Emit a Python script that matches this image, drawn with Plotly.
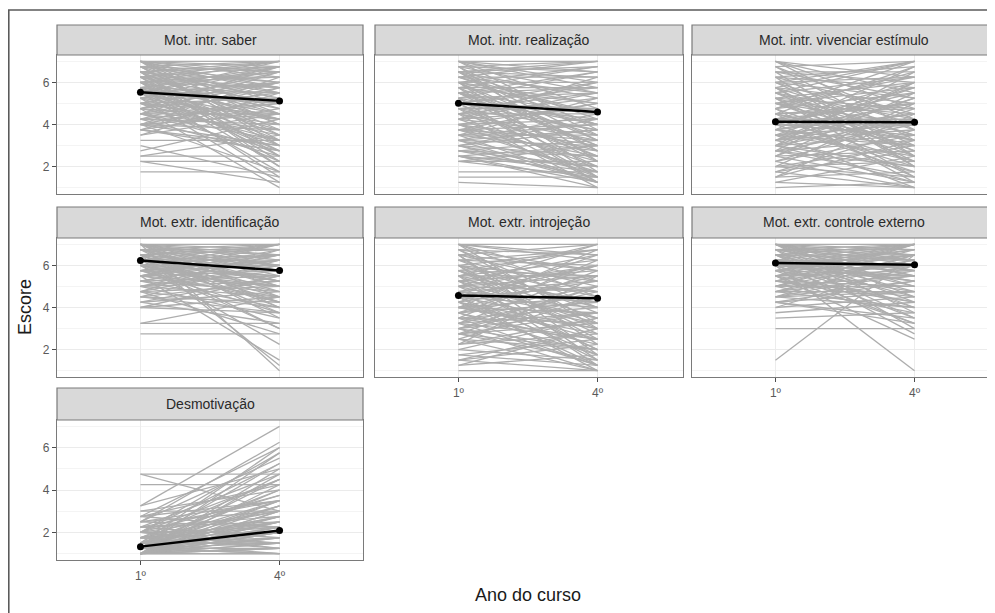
import plotly.graph_objects as go

# ---------------- data ----------------
panel_titles = [
    "Mot. intr. saber",
    "Mot. intr. realização",
    "Mot. intr. vivenciar estímulo",
    "Mot. extr. identificação",
    "Mot. extr. introjeção",
    "Mot. extr. controle externo",
    "Desmotivação",
]
x_categories = [1, 2]
x_tick_labels = ["1º", "4º"]
y_tick_values = [2, 4, 6]

# (score in 1st year, score in 4th year) for individual students
saber = [(7,6.5),(7,7),(7,5.5),(7,4.5),(6.75,7),(6.75,6),(6.75,3.5),(6.5,6.75),(6.5,5.25),(6.5,4),
         (6.5,2.5),(6.25,6.25),(6.25,5),(6.25,3),(6,7),(6,5.75),(6,4.75),(6,2),(5.75,6.5),(5.75,4.5),
         (5.75,1.5),(5.5,6),(5.5,5.5),(5.5,3.75),(5.5,2.75),(5.25,6.75),(5.25,4.25),(5.25,1.25),(5,5.25),(5,4),
         (5,2.25),(4.75,6),(4.75,3.5),(4.75,1),(4.5,5.75),(4.5,4.5),(4.5,3.25),(4.25,5),(4.25,2.5),(4,6.25),
         (4,3.75),(4,1.75),(3.75,4.75),(3.75,3),(3.5,5.5),(3.25,3.25),(3,1.5),(2.75,4.25),(2.5,2.5),(2.5,3.5),
         (2.25,2.25),(2.25,1.25),(1.75,1.75),(7,6.25),(6.75,5.75),(6.5,7),(6.25,4.5),(6,6.5),(5.75,5),(5.5,6.75),
         (5.25,3),(5,6),(4.75,5.5),(6.5,3.75),(6,2.75),(5.5,4.25),(7,5),(6.25,6.75),(5.75,3.25),(4.5,6.5),
         (7,6.75),(7,5.75),(6.75,6.5),(6.75,4.75),(6.5,6),(6.5,5.5),(6.25,7),(6.25,5.75),(6,6.25),(6,4.25),
         (5.75,6.75),(5.75,5.5),(5.5,5),(5.5,7),(5.25,6),(5.25,5.25),(5,4.5),(5,6.5),(4.75,4.25),(4.75,6.75),
         (4.5,5),(4.5,3.75),(4.25,6),(4.25,4),(4,5.25),(4,4.5),(3.75,5.75),(3.75,2.75),(7,4),(6.5,2),
         (6,3.5),(5.5,1.75),(5,3.25),(6.75,3.25),(6.25,2.25),(7,3),(4.5,2.75),(5.75,2.5),(3.5,4.5),(4,3)]

realizacao = [(7,7),(7,6),(7,4.75),(6.75,6.5),(6.75,3.5),(6.5,7),(6.5,5.25),(6.5,2.75),(6.25,6.25),(6.25,4),
              (6,6.75),(6,5),(6,1.75),(5.75,5.75),(5.75,3),(5.5,6.5),(5.5,4.5),(5.5,2.25),(5.25,5.5),(5.25,1.25),
              (5,6),(5,3.75),(5,1.5),(4.75,4.75),(4.75,2.5),(4.5,5.25),(4.5,3.25),(4.5,1),(4.25,6.25),(4.25,2),
              (4,4.25),(4,3),(3.75,5),(3.75,1.75),(3.5,3.5),(3.5,2.75),(3.25,4.5),(3.25,1.25),(3,2.5),(3,3.75),
              (2.75,2),(2.75,1.5),(2.5,3),(2.5,1.25),(2.25,2.25),(1.75,1.75),(1.5,1.5),(1.25,1),(7,5.75),(6.75,7),
              (6.5,4.25),(6.25,5.5),(6,3.25),(5.75,6.75),(5.5,4),(5.25,2.5),(5,5.75),(4.75,3.75),(4.5,6),(4.25,4.75),
              (4,2.25),(3.75,3.25),(3.5,4),(3.25,2),(3,1.75),(6.5,6.25),(6,4.5),(5.5,3),(5,4.25),(2.5,1),
              (7,6.5),(7,3.75),(6.75,5.5),(6.75,2.25),(6.5,6.75),(6.5,3.25),(6.25,7),(6.25,4.5),(6,6),(6,2.75),
              (5.75,5),(5.75,1.5),(5.5,5.75),(5.5,3.5),(5.25,6.5),(5.25,4),(5,4.75),(5,2),(4.75,5.5),(4.75,1.25),
              (4.5,4.5),(4.5,2.75),(4.25,3.5),(4.25,5.5),(4,5),(4,1.5),(3.75,4),(3.75,2.5),(3.5,5.25),(3.5,1.25),
              (3.25,3),(3.25,3.75),(3,4.25),(3,1.25),(2.75,3.25),(2.75,2.5),(2.5,2),(2.25,1.5),(2.25,3),(2.5,1.75)]

vivenciar = [(7,5.5),(7,3.75),(6.75,7),(6.5,6),(6.5,2.5),(6.25,4.5),(6.25,6.75),(6,3),(6,5.25),(5.75,7),
             (5.75,2),(5.5,4.25),(5.5,6.25),(5.25,3.5),(5.25,1.5),(5,5.75),(5,4),(5,2.75),(4.75,6.5),(4.75,1.25),
             (4.5,5),(4.5,3.25),(4.5,4.75),(4.25,2.25),(4.25,6),(4,4),(4,1.75),(4,5.5),(3.75,3),(3.75,6.75),
             (3.5,4.5),(3.5,1),(3.5,2.5),(3.25,5.25),(3.25,3.75),(3,2),(3,4.25),(3,6.5),(2.75,3.25),(2.75,1.5),
             (2.5,4.75),(2.5,2.75),(2.25,3.5),(2.25,1),(2,5),(2,2.25),(1.75,3.75),(1.5,1.75),(1.25,2.5),(1,1.25),
             (6.75,4.25),(6,7),(5.5,2.75),(5,6.25),(4.5,3),(4,5.75),(3.5,4),(3,1.25),(2.5,5.5),(2,3),
             (1.5,4.5),(6.5,6.5),(5.25,4.75),(4.25,3.25),(3.75,5),(2.75,2),(4.75,7),(3.25,6),(5.75,3.75),(1.75,1),
             (7,6.25),(7,4.75),(6.75,3.25),(6.5,5.25),(6.25,2),(6.25,5.75),(6,4),(6,6.25),(5.75,5),(5.75,2.5),
             (5.5,3.5),(5.5,7),(5.25,6),(5.25,2.25),(5,3.25),(5,4.5),(4.75,5.5),(4.75,2.5),(4.5,6.75),(4.5,1.5),
             (4.25,4.25),(4.25,5),(4,3.5),(4,2),(3.75,4.5),(3.75,2.25),(3.5,5.75),(3.5,3),(3.25,1.75),(3.25,4.25),
             (3,5.25),(3,3.5),(2.75,4),(2.75,6),(2.5,1.25),(2.25,4.25),(2,1.5),(1.75,2.75),(1.5,3.25),(1.25,1)]

identificacao = [(7,7),(7,6.5),(7,5.5),(7,4.5),(7,1),(6.75,7),(6.75,6),(6.75,5),(6.75,3.5),(6.5,6.75),
                 (6.5,5.75),(6.5,4.25),(6.5,1.25),(6.25,6.25),(6.25,5.25),(6.25,3),(6,7),(6,6),(6,4.75),(6,2.25),
                 (5.75,6.5),(5.75,5.5),(5.75,3.75),(5.5,6.75),(5.5,5),(5.5,1.5),(5.25,6.25),(5.25,4),(5,5.75),(5,4.5),
                 (5,3.5),(4.75,6),(4.75,2.75),(4.5,5.25),(4.5,4.25),(4.25,4.75),(4.25,3.25),(4,5.5),(4,3.75),(3.25,3.25),
                 (3.25,4.5),(2.75,2.75),(7,6.75),(6.75,5.75),(6.5,7),(6.25,6.5),(6,5),(5.75,7),(5.5,6.25),(5.25,5.5),
                 (5,6.5),(7,6),(6.5,4),(6,3),(5.5,4.5),(6.75,6.75),(6.25,5.25),(5.75,6),(4.75,5),(7,5.75),
                 (7,6.25),(7,5),(6.75,6.5),(6.75,4.75),(6.5,6),(6.5,5.25),(6.25,7),(6.25,4.5),(6,6.5),(6,5.5),
                 (5.75,6.25),(5.75,4.25),(5.5,7),(5.5,5.75),(5.25,6.5),(5.25,4.75),(5,6),(5,5.25),(4.75,6.75),(4.75,4),
                 (4.5,6.25),(4.5,3.75),(4.25,5.5),(4,4.5),(7,4),(6.5,3.75),(6,4.25),(5.75,5),(6.75,5.25),(6.25,5.75)]

introjecao = [(7,7),(7,5.25),(7,3),(6.75,6.5),(6.75,4),(6.5,7),(6.5,5),(6.5,2.25),(6.25,6),(6.25,3.75),
              (6,6.75),(6,4.5),(6,1.5),(5.75,5.5),(5.75,2.75),(5.5,6.25),(5.5,4.25),(5.5,1.25),(5.25,5.75),(5.25,3.25),
              (5,7),(5,4.75),(5,2),(4.75,6),(4.75,3.5),(4.5,5),(4.5,4),(4.5,1),(4.25,6.5),(4.25,2.5),
              (4,4.5),(4,3),(4,5.5),(3.75,1.75),(3.75,4.25),(3.5,6.25),(3.5,2.5),(3.25,3.75),(3.25,1.25),(3,5),
              (3,2),(2.75,3.25),(2.75,1.5),(2.5,4.5),(2.5,1),(2.25,2.75),(2,3.5),(1.75,1.25),(1.5,2.25),(1.25,1.75),
              (1,1),(6.75,5.75),(6.25,6.75),(5.75,3.5),(5.25,4.75),(4.75,5.25),(4.25,3),(3.75,6),(3.25,4.75),(2.75,2),
              (2.25,5.5),(1.5,3),(6,4),(5,6),(4,2.75),(3,3.75),(7,6.25),(5.5,5.5),(4.5,1.75),(3.5,4),
              (7,6.5),(7,4.5),(6.75,3.25),(6.5,5.75),(6.5,1.75),(6.25,4.75),(6,5.25),(6,2.5),(5.75,6.75),(5.75,4),
              (5.5,3),(5.5,7),(5.25,2),(5.25,6.5),(5,3.5),(5,5.5),(4.75,4.25),(4.75,1.5),(4.5,6),(4.5,3.25),
              (4.25,5.25),(4.25,1.25),(4,6.75),(4,3.75),(3.75,2.25),(3.75,5),(3.5,3.25),(3.5,1.25),(3.25,5.75),(3.25,2.5),
              (3,4.5),(3,1),(2.75,5),(2.75,3.75),(2.5,2),(2.25,3.5),(2,1.5),(1.75,2.5),(1.5,1),(1.25,3)]

controle_externo = [(7,7),(7,6.5),(7,5.5),(7,4.5),(7,6),(6.75,7),(6.75,5.75),(6.75,4.25),(6.75,6.75),(6.5,6.5),
                    (6.5,5),(6.5,3.5),(6.5,7),(6.25,6.25),(6.25,5.25),(6.25,2.75),(6,7),(6,5.75),(6,4),(6,6.5),
                    (5.75,6.75),(5.75,4.75),(5.75,3.25),(5.5,6),(5.5,5.5),(5.5,2.5),(5.25,7),(5.25,4.5),(5,6.25),(5,5),
                    (5,3.75),(4.75,6.5),(4.75,4),(4.5,5.25),(4.5,5.75),(4.25,4.75),(4.25,3.5),(3.75,4.25),(3.5,3.75),(3,3),
                    (1.5,6.5),(6,1),(7,6.75),(6.75,6.25),(6.5,7),(6.25,6),(6,5.5),(5.75,7),(5.5,6.5),(5.25,5),
                    (7,6.25),(6.5,5.75),(6,6.75),(5.5,4.25),(5,7),(4.75,5.5),(6.75,3),(6.25,5.25),(5.75,6),(4.5,4.75),
                    (7,5.75),(7,5),(6.75,6.5),(6.75,5.5),(6.5,6.25),(6.5,4.75),(6.25,7),(6.25,4.5),(6,6),(6,5.25),
                    (5.75,6.5),(5.75,5.5),(5.5,7),(5.5,5.75),(5.25,6.25),(5.25,4.25),(5,6.75),(5,5.5),(4.75,6),(4.75,4.75),
                    (4.5,6.5),(4.5,4),(4.25,5.25),(4.25,3.25),(4,4.5),(4,6),(7,3.75),(6.5,4),(6,3.5),(5.5,3.25)]

desmotivacao = [(1,1),(1,1.5),(1,2),(1,2.5),(1,3),(1,3.5),(1,1.25),(1,4.75),(1.25,1),(1.25,2.25),
                (1.25,2.75),(1.25,3.25),(1.25,5.75),(1.5,1.75),(1.5,2.5),(1.5,4),(1.5,6),(1.75,1.25),(1.75,3),(1.75,4.5),
                (2,2),(2,3.75),(2,5.25),(2.25,2.75),(2.25,4.75),(2.5,3.5),(2.5,6.25),(2.75,2.25),(2.75,4.25),(3,3),
                (3.25,7),(4.75,4.75),(4.75,3),(4.25,4.25),(1,1.75),(1,2.75),(1,1),(1.25,1.5),(1.25,4),(1.5,1),
                (1.5,3.25),(1.75,2.25),(2,1.5),(2.25,3.5),(1,2.25),(1,1.25),(1.25,2),(1.5,2.75),(1,3.25),(1.25,1.75),
                (3.25,5),(2.5,5.5),(1.75,3.75),(1,5),(1.5,1.5),(2,4.5),(1.25,2.5),(1,1.5),(2.75,6),(1,2),
                (1,1.25),(1,1.75),(1,2.5),(1,3),(1.25,1),(1.25,2.25),(1.25,3.5),(1.5,1.5),(1.5,2),(1.5,2.75),
                (1.75,1.5),(1.75,2.5),(2,2.25),(2,3),(2.25,1.75),(2.25,2.5),(2.5,2.25),(2.5,3),(1,1),(1.25,1.25),
                (1,2),(1.5,3.5),(1.75,2),(2,1.25),(2.75,3.5),(1,4.25),(1.25,4.5),(2,5.75),(1.5,5.25),(3,4)]

students = [saber, realizacao, vivenciar, identificacao, introjecao, controle_externo, desmotivacao]

# group means (1º, 4º)
mean_1o = [5.53, 5.01, 4.13, 6.23, 4.57, 6.11, 1.33]
mean_4o = [5.12, 4.59, 4.11, 5.76, 4.44, 6.03, 2.09]

# ---------------- layout geometry (page pixels) ----------------
OFF = 8                      # default body margin of the html page
W, H = 995 - OFF, 613 - OFF
col_px = [(57, 363), (375, 683), (692, 995)]
row_px = [(55, 194), (238, 377), (420, 560)]
strip_px = [(25, 55), (207, 238), (388, 420)]
unit_px = (363 - 57) / 2.2

def px_x(p):
    return (p - OFF) / W

def px_y(p):
    return 1 - (p - OFF) / H

FONT = "Liberation Sans, Arial, sans-serif"
GREY_LINE = "#adadad"
BORDER = "#7a7a7a"

fig = go.Figure()
layout = dict(
    width=W, height=H,
    margin=dict(l=0, r=0, t=0, b=0),
    paper_bgcolor="white", plot_bgcolor="white",
    showlegend=False,
    font=dict(family=FONT, color="#4d4d4d"),
    shapes=[], annotations=[],
)

xbottom = {6, 4, 5}
for i, title in enumerate(panel_titles):
    r, c = divmod(i, 3)
    ax = "" if i == 0 else str(i + 1)
    x0, x1 = col_px[c]
    y0, y1 = row_px[r]
    xr_hi = 0.4 + (x1 - x0) / unit_px

    xs, ys = [], []
    for a, b in students[i]:
        xs += [x_categories[0], x_categories[1], None]
        ys += [a, b, None]
    fig.add_trace(go.Scatter(x=xs, y=ys, mode="lines", xaxis="x" + ax, yaxis="y" + ax,
                             line=dict(color=GREY_LINE, width=1.3), hoverinfo="skip"))
    fig.add_trace(go.Scatter(x=x_categories, y=[mean_1o[i], mean_4o[i]], mode="lines+markers",
                             xaxis="x" + ax, yaxis="y" + ax,
                             line=dict(color="black", width=2.4),
                             marker=dict(color="black", size=7)))

    show_x = i in xbottom
    show_y = c == 0
    layout["xaxis" + ax] = dict(
        domain=[px_x(x0), min(1.0, px_x(x1))], range=[0.4, xr_hi], anchor="y" + ax,
        tickvals=x_categories, ticktext=x_tick_labels, showticklabels=show_x,
        ticks="outside" if show_x else "", ticklen=4, tickcolor="#4d4d4d",
        tickfont=dict(size=12, color="#5a5a5a", family=FONT),
        showgrid=True, gridcolor="#ececec", gridwidth=1, zeroline=False,
        showline=True, mirror=True, linecolor=BORDER, linewidth=1.2, fixedrange=True,
    )
    layout["yaxis" + ax] = dict(
        domain=[px_y(y1), px_y(y0)], range=[0.7, 7.3], anchor="x" + ax,
        tickvals=y_tick_values, showticklabels=show_y,
        ticks="outside" if show_y else "", ticklen=4, tickcolor="#4d4d4d",
        tickfont=dict(size=12, color="#5a5a5a", family=FONT),
        showgrid=True, gridcolor="#ebebeb", gridwidth=1, zeroline=False,
        minor=dict(tickvals=[1, 3, 5, 7], showgrid=True, gridcolor="#f4f4f4", gridwidth=0.6, ticks=""),
        showline=True, mirror=True, linecolor=BORDER, linewidth=1.2, fixedrange=True,
    )

    s0, s1 = strip_px[r]
    layout["shapes"].append(dict(type="rect", xref="paper", yref="paper",
                                 x0=px_x(x0), x1=min(1.0, px_x(x1)), y0=px_y(s1), y1=px_y(s0),
                                 fillcolor="#d9d9d9", line=dict(color=BORDER, width=1.2)))
    layout["annotations"].append(dict(text=title, xref="paper", yref="paper",
                                      x=px_x((x0 + x1) / 2), y=px_y((s0 + s1) / 2),
                                      showarrow=False, xanchor="center", yanchor="middle",
                                      font=dict(size=14, color="#2a2a2a", family=FONT)))

layout["annotations"].append(dict(text="Escore", xref="paper", yref="paper",
                                  x=px_x(25), y=px_y(307), showarrow=False, textangle=-90,
                                  xanchor="center", yanchor="middle",
                                  font=dict(size=18, color="#1a1a1a", family=FONT)))
layout["annotations"].append(dict(text="Ano do curso", xref="paper", yref="paper",
                                  x=px_x(528), y=px_y(595), showarrow=False,
                                  xanchor="center", yanchor="middle",
                                  font=dict(size=18, color="#1a1a1a", family=FONT)))

# outer frame (top and left edges of the picture)
layout["shapes"].append(dict(type="line", xref="paper", yref="paper",
                             x0=0, x1=1, y0=px_y(10), y1=px_y(10),
                             line=dict(color="#5a5a5a", width=1.6)))
layout["shapes"].append(dict(type="line", xref="paper", yref="paper",
                             x0=0.0008, x1=0.0008, y0=px_y(10), y1=0,
                             line=dict(color="#5a5a5a", width=1.6)))

fig.update_layout(**layout)
fig.write_html("out.html")
